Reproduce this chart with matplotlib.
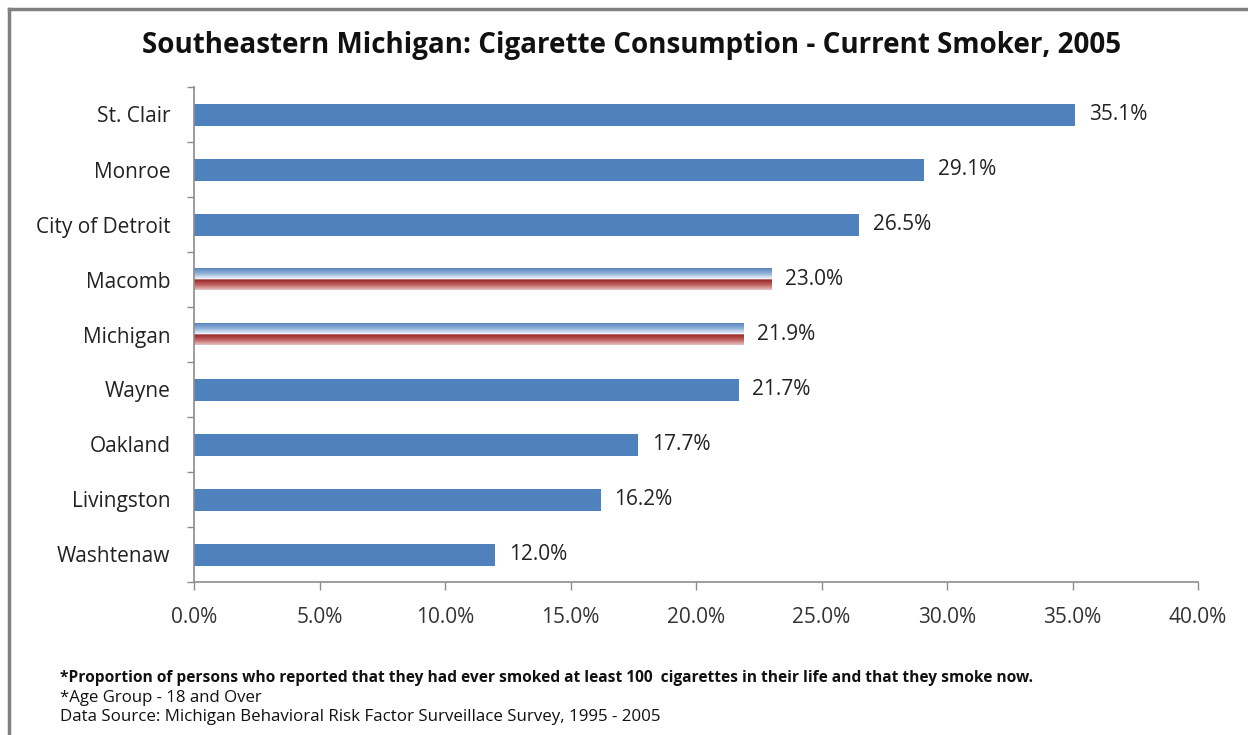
import numpy as np
import matplotlib
matplotlib.use("Agg")
import matplotlib.pyplot as plt
from matplotlib.colors import LinearSegmentedColormap
from matplotlib.lines import Line2D

# Data
regions = ["St. Clair", "Monroe", "City of Detroit", "Macomb", "Michigan",
           "Wayne", "Oakland", "Livingston", "Washtenaw"]
smoker_pct = [35.1, 29.1, 26.5, 23.0, 21.9, 21.7, 17.7, 16.2, 12.0]
highlighted = ["Macomb", "Michigan"]
x_ticks = [0, 5, 10, 15, 20, 25, 30, 35, 40]

title = "Southeastern Michigan: Cigarette Consumption - Current Smoker, 2005"
notes = [
    ("*Proportion of persons who reported that they had ever smoked at least 100  cigarettes in their life and that they smoke now.", "bold", 11.2),
    ("*Age Group - 18 and Over", "normal", 12.1),
    ("Data Source: Michigan Behavioral Risk Factor Surveillace Survey, 1995 - 2005", "normal", 12.2),
]

FONT = "Open Sans"
BAR_BLUE = "#4F81BD"
AXIS_GRAY = "#8C8C8C"

fig = plt.figure(figsize=(12.48, 7.35), dpi=100)
ax = fig.add_axes([194 / 1248, 1 - 582 / 735, (1198 - 194) / 1248, (582 - 87) / 735])

ypos = np.arange(len(regions))
bar_h = 0.4

# Two-tone gradient used for the highlighted bars: blue fading to white on top,
# deep red fading to pink below.
top_cmap = LinearSegmentedColormap.from_list("top", ["#5a84bd", "#8fb0d8", "#eef3fa"])
bot_cmap = LinearSegmentedColormap.from_list("bot", ["#952323", "#c06060", "#e6c4c4"])
n = 64
grad = np.ones((2 * n + 4, 1, 3))
grad[:n, 0, :] = top_cmap(np.linspace(0, 1, n))[:, :3]
grad[n:n + 4, 0, :] = [0.97, 0.97, 0.98]
grad[n + 4:, 0, :] = bot_cmap(np.linspace(0, 1, n))[:, :3]

for y, name, v in zip(ypos, regions, smoker_pct):
    if name in highlighted:
        bars = ax.barh(y, v, height=bar_h, color="none", edgecolor="none", zorder=2)
        b = bars[0]
        x0, y0, w, h = b.get_x(), b.get_y(), b.get_width(), b.get_height()
        # y axis is inverted: top of the bar is the smaller data value
        ax.imshow(grad, aspect="auto", interpolation="bilinear",
                  extent=(x0, x0 + w, y0 + h, y0), zorder=2)
    else:
        ax.barh(y, v, height=bar_h, color=BAR_BLUE, edgecolor="none", zorder=2)
    ax.text(v + 0.55, y, f"{v:.1f}%", va="center", ha="left",
            fontsize=15, family=FONT, color="#222222")

ax.set_xlim(0, 40)
ax.set_ylim(len(regions) - 0.5, -0.5)

ax.set_xticks(x_ticks)
ax.set_xticklabels([f"{t:.1f}%" for t in x_ticks], fontsize=15, family=FONT, color="#333333")
ax.tick_params(axis="x", length=6, width=1, color=AXIS_GRAY, pad=12)

# Category ticks sit between bars; labels go at bar centres
ax.set_yticks(np.arange(-0.5, len(regions), 1.0))
ax.set_yticklabels([])
ax.tick_params(axis="y", which="major", length=5, width=1, color=AXIS_GRAY)
ax.set_yticks(ypos, minor=True)
ax.set_yticklabels(regions, minor=True, fontsize=15, family=FONT, color="#222222")
ax.tick_params(axis="y", which="minor", length=0, pad=17)

for side in ("top", "right"):
    ax.spines[side].set_visible(False)
for side in ("left", "bottom"):
    ax.spines[side].set_color(AXIS_GRAY)
    ax.spines[side].set_linewidth(1.2)

fig.text(632 / 1248, 1 - 45 / 735, title, ha="center", va="center",
         fontsize=20, fontweight="bold", family=FONT, color="#111111")

for i, (line, weight, size) in enumerate(notes):
    fig.text(60 / 1248, 1 - (678 + 19.5 * i) / 735, line, ha="left", va="center",
             fontsize=size, fontweight=weight, family=FONT, color="#111111")

# Outer frame (top and left edges)
fig.add_artist(Line2D([9 / 1248, 1.0], [1 - 9 / 735, 1 - 9 / 735],
                      transform=fig.transFigure, color="#808080", lw=2.5))
fig.add_artist(Line2D([9 / 1248, 9 / 1248], [0.0, 1 - 9 / 735],
                      transform=fig.transFigure, color="#808080", lw=2.5))

fig.savefig("out.png", dpi=100, facecolor="white")
